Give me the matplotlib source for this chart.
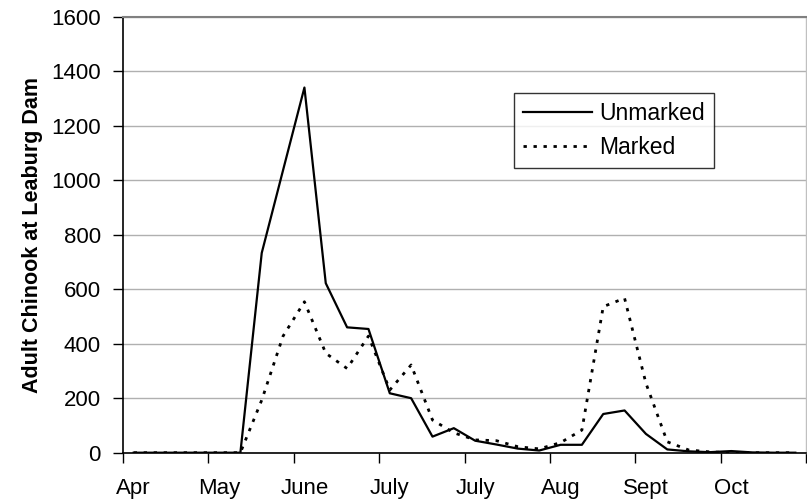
import matplotlib
matplotlib.use("Agg")
import matplotlib.pyplot as plt
import numpy as np

month_labels = ["Apr", "May", "June", "July", "July", "Aug", "Sept", "Oct"]
unmarked = [0, 0, 0, 0, 0, 0, 733, 1037, 1340, 622, 460, 454, 218, 200, 59, 90,
            44, 30, 15, 8, 29, 29, 142, 155, 69, 12, 5, 2, 6, 1, 0, 0]
marked = [0, 0, 0, 0, 0, 0, 193, 428, 554, 365, 309, 428, 230, 322, 120, 73,
          47, 44, 22, 14, 37, 83, 536, 567, 255, 40, 10, 3, 0, 0, 0, 0]

plt.rcParams['font.family'] = ['Liberation Sans', 'DejaVu Sans']

fig = plt.figure(figsize=(8.07, 5.01), dpi=100)
ax = fig.add_axes([123/807, (501-452.7)/501, (806-123)/807, (452.7-16.7)/501])

x = np.arange(len(unmarked))
ax.plot(x, unmarked, color='black', lw=1.6, label='Unmarked', zorder=3)
ax.plot(x, marked, color='black', lw=2.0, linestyle=(0, (1.2, 2.4)), label='Marked', zorder=3)

ax.set_xlim(-0.5, len(unmarked) - 0.5)
ax.set_ylim(0, 1600)
ax.set_yticks(np.arange(0, 1601, 200))
ax.yaxis.grid(True, color='#b0b0b0', lw=1.0)
ax.set_axisbelow(True)

# tick marks between month groups, labels at group starts
ax.set_xticks(np.arange(-0.5, len(unmarked), 4))
ax.set_xticklabels([])
ax.set_xticks(np.arange(0, 4 * len(month_labels), 4), minor=True)
ax.set_xticklabels(month_labels, minor=True)
ax.tick_params(axis='x', which='major', direction='out', length=7, width=1, color='black')
ax.tick_params(axis='x', which='minor', length=0, pad=18, labelsize=16)
ax.tick_params(axis='y', direction='out', length=7, width=1, pad=9, labelsize=16)

for s in ['left', 'bottom']:
    ax.spines[s].set_color('black')
    ax.spines[s].set_linewidth(1.2)
ax.spines['top'].set_color('#808080')
ax.spines['top'].set_linewidth(1.5)
ax.spines['right'].set_color('#c0c0c0')
ax.spines['right'].set_linewidth(1.0)

ax.set_ylabel('Adult Chinook at Leaburg Dam', fontsize=15.5, fontweight='bold', labelpad=6)

leg = ax.legend(loc='upper left', bbox_to_anchor=(0.5725, 0.8257), fontsize=16.5,
                frameon=True, fancybox=False, edgecolor='black', handlelength=3.0,
                handletextpad=0.3, labelspacing=0.5, borderpad=0.4, borderaxespad=0)
leg.get_frame().set_linewidth(1.0)

fig.savefig('out.png', dpi=100)
